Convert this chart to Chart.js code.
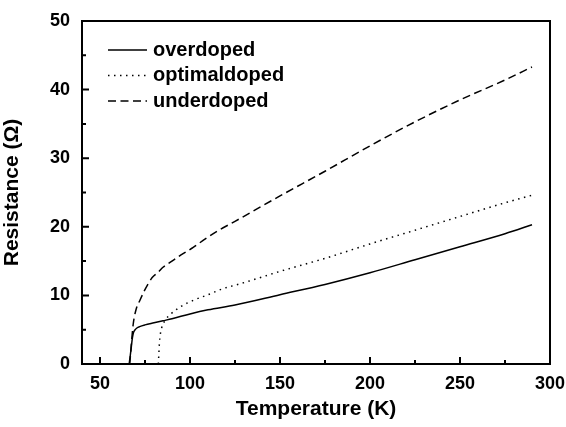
<!DOCTYPE html>
<html>
<head>
<meta charset="utf-8">
<script src="https://cdn.jsdelivr.net/npm/chart.js@4.4.1/dist/chart.umd.min.js"></script>
<style>
  html, body { margin: 0; padding: 0; background: #fff; }
  #wrap { width: 566px; height: 427px; }
</style>
</head>
<body>
<div id="wrap"><canvas id="grafica"></canvas></div>
<script>
// datos
const overT = [66.2, 66.8, 67.4, 68.0, 68.6, 69.5, 70.5, 72, 75, 80, 85, 90, 100, 110, 125, 150, 175, 200, 225, 250, 275, 290];
const overR = [0, 1.2, 2.5, 3.8, 4.6, 5.0, 5.25, 5.45, 5.7, 6.0, 6.3, 6.6, 7.3, 7.9, 8.6, 10.1, 11.6, 13.3, 15.2, 17.1, 19.0, 20.3];

const optT = [82.4, 82.7, 83.0, 83.5, 84.3, 86, 89, 95, 102, 110, 118.5, 128, 150, 175, 200, 225, 250, 275, 290];
const optR = [0, 1.5, 3.0, 4.3, 5.3, 6.3, 7.2, 8.4, 9.3, 10.1, 11.0, 11.7, 13.5, 15.4, 17.5, 19.5, 21.5, 23.5, 24.6];

const underT = [66.5, 67.0, 67.5, 68.5, 70, 72.2, 74.5, 76.8, 79, 82.4, 85, 88.9, 95, 101.8, 108.3, 116, 125, 150, 175, 200, 225, 250, 275, 290];
const underR = [0, 1.5, 3.2, 5.9, 7.9, 9.3, 10.6, 11.7, 12.6, 13.4, 14.1, 14.8, 15.9, 17.0, 18.2, 19.5, 20.8, 24.5, 28.1, 31.8, 35.3, 38.5, 41.4, 43.3];

const seriesNames = ['overdoped', 'optimaldoped', 'underdoped'];

const xTicks = [50, 100, 150, 200, 250, 300];
const xMinor = [75, 125, 175, 225, 275];
const yTicks = [0, 10, 20, 30, 40, 50];
const yMinor = [5, 15, 25, 35, 45];

const toPoints = (xs, ys) => xs.map((x, i) => ({ x: x, y: ys[i] }));

const FONT = '"Liberation Sans", Arial, sans-serif';

// marco, ticks hacia dentro y leyenda dentro del area
const marcoPlugin = {
    id: 'marco',
    afterDraw(chart) {
        const ctx = chart.ctx;
        const area = chart.chartArea;
        const xs = chart.scales.x;
        const ys = chart.scales.y;
        ctx.save();
        ctx.strokeStyle = '#000';
        ctx.lineWidth = 2;
        ctx.strokeRect(area.left, area.top, area.right - area.left, area.bottom - area.top);

        ctx.beginPath();
        xTicks.forEach(v => {
            const px = xs.getPixelForValue(v);
            ctx.moveTo(px, area.bottom);
            ctx.lineTo(px, area.bottom - 7);
        });
        xMinor.forEach(v => {
            const px = xs.getPixelForValue(v);
            ctx.moveTo(px, area.bottom);
            ctx.lineTo(px, area.bottom - 4);
        });
        yTicks.forEach(v => {
            const py = ys.getPixelForValue(v);
            ctx.moveTo(area.left, py);
            ctx.lineTo(area.left + 7, py);
        });
        yMinor.forEach(v => {
            const py = ys.getPixelForValue(v);
            ctx.moveTo(area.left, py);
            ctx.lineTo(area.left + 4, py);
        });
        ctx.stroke();

        // leyenda
        chart.data.datasets.forEach((ds, i) => {
            const y = area.top + 29 + i * 25.5;
            ctx.beginPath();
            ctx.lineWidth = 1.5;
            ctx.setLineDash(ds.borderDash || []);
            ctx.moveTo(area.left + 26, y);
            ctx.lineTo(area.left + 65, y);
            ctx.stroke();
            ctx.setLineDash([]);
            ctx.fillStyle = '#000';
            ctx.font = 'bold 20px ' + FONT;
            ctx.textBaseline = 'middle';
            ctx.textAlign = 'left';
            ctx.fillText(ds.label, area.left + 71, y);
        });
        ctx.restore();
    }
};

const ctx = document.getElementById('grafica').getContext('2d');
new Chart(ctx, {
    type: 'line',
    data: {
        datasets: [
            {
                label: seriesNames[0],
                data: toPoints(overT, overR),
                borderColor: '#000',
                borderWidth: 1.5,
                pointRadius: 0,
                cubicInterpolationMode: 'monotone'
            },
            {
                label: seriesNames[1],
                data: toPoints(optT, optR),
                borderColor: '#000',
                borderWidth: 1.5,
                borderDash: [1.5, 4.5],
                pointRadius: 0,
                cubicInterpolationMode: 'monotone'
            },
            {
                label: seriesNames[2],
                data: toPoints(underT, underR),
                borderColor: '#000',
                borderWidth: 1.5,
                borderDash: [8, 4.5],
                pointRadius: 0,
                cubicInterpolationMode: 'monotone'
            }
        ]
    },
    options: {
        responsive: true,
        maintainAspectRatio: false,
        animation: false,
        layout: { padding: { top: 21, right: 0, left: 0, bottom: 0 } },
        plugins: {
            legend: { display: false },
            tooltip: { enabled: false }
        },
        scales: {
            x: {
                type: 'linear',
                min: 40,
                max: 300,
                afterBuildTicks: scale => { scale.ticks = xTicks.map(v => ({ value: v })); },
                afterFit: scale => {
                    scale.height = 63;
                    scale.paddingRight = 16;
                    scale.paddingLeft = 0;
                },
                grid: { display: false, drawTicks: false },
                border: { display: false },
                ticks: {
                    color: '#000',
                    padding: 9,
                    font: { family: FONT, size: 18, weight: 'bold' }
                },
                title: {
                    display: true,
                    text: 'Temperature (K)',
                    color: '#000',
                    padding: { top: 0, bottom: 5 },
                    font: { family: FONT, size: 21, weight: 'bold' }
                }
            },
            y: {
                type: 'linear',
                min: 0,
                max: 50,
                afterBuildTicks: scale => { scale.ticks = yTicks.map(v => ({ value: v })); },
                afterFit: scale => {
                    scale.width = 82;
                    scale.paddingTop = 0;
                    scale.paddingBottom = 0;
                },
                grid: { display: false, drawTicks: false },
                border: { display: false },
                ticks: {
                    color: '#000',
                    padding: 12,
                    font: { family: FONT, size: 18, weight: 'bold' }
                },
                title: {
                    display: true,
                    text: 'Resistance (Ω)',
                    color: '#000',
                    padding: { top: 0, bottom: 7 },
                    font: { family: FONT, size: 21, weight: 'bold' }
                }
            }
        }
    },
    plugins: [marcoPlugin]
});
</script>
</body>
</html>
